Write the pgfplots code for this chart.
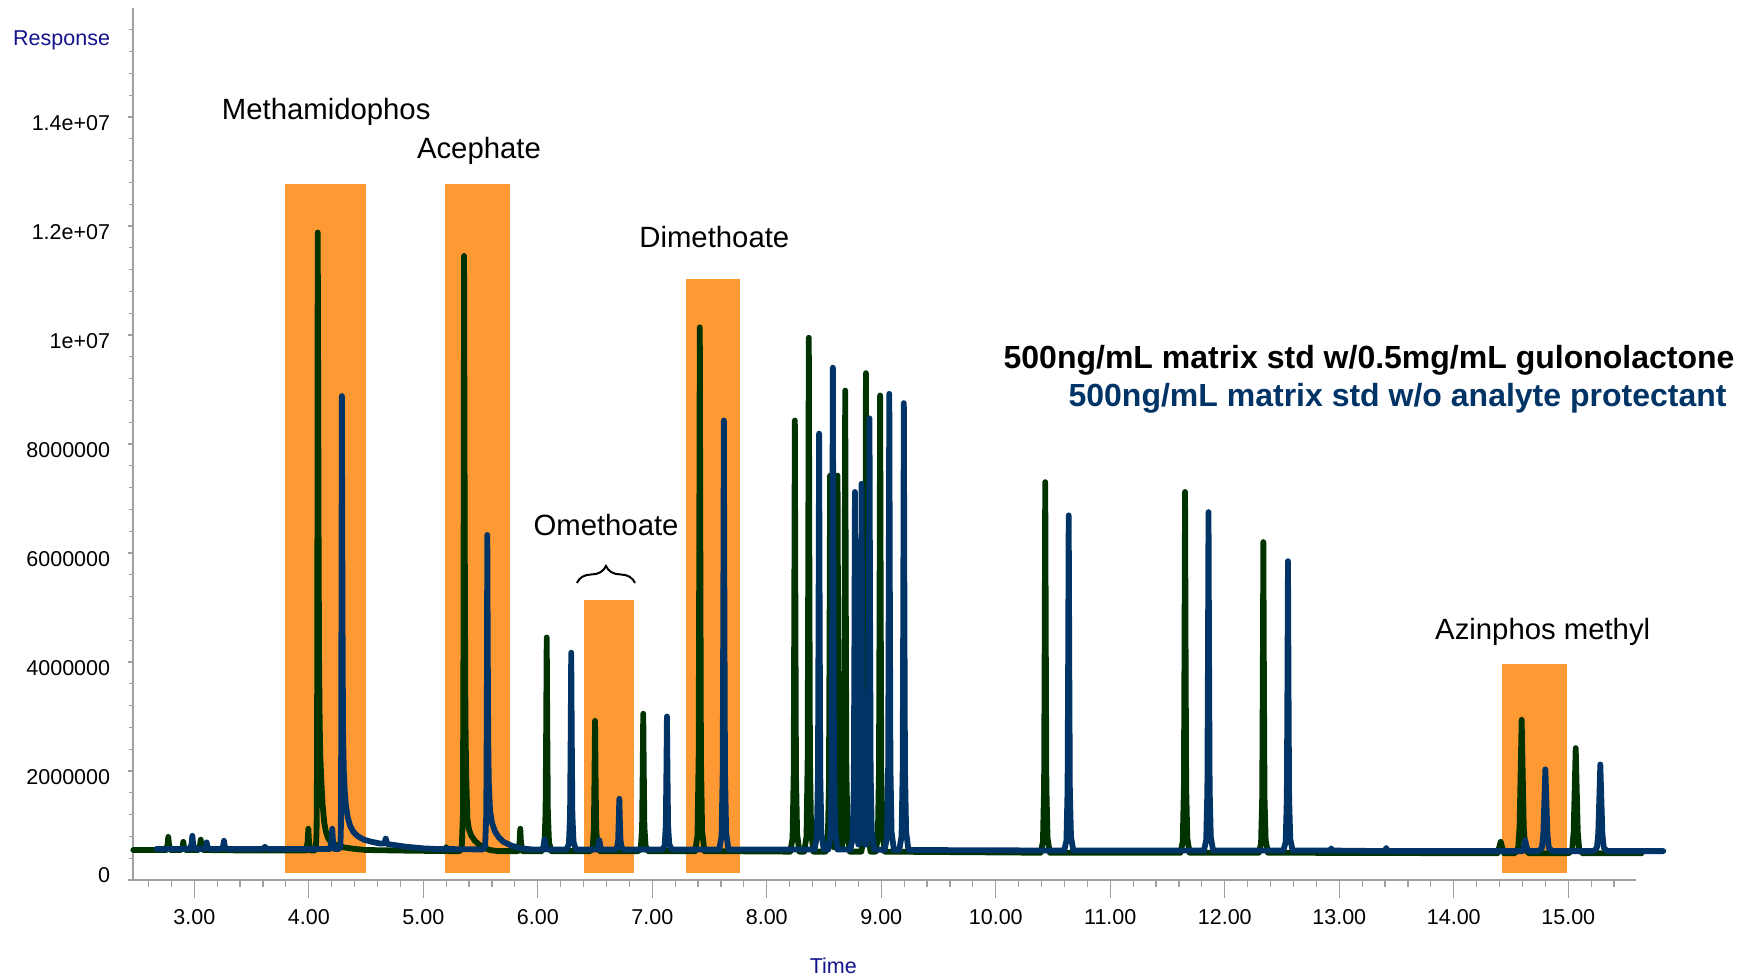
\documentclass[border=0pt]{standalone}
\usepackage{fontspec}
\setmainfont{Liberation Sans}
\usepackage{pgfplots}
\pgfplotsset{compat=1.18}
\usetikzlibrary{decorations.pathreplacing}
\definecolor{cgreen}{RGB}{0,51,0}
\definecolor{cblue}{RGB}{0,51,102}
\definecolor{corange}{RGB}{255,153,51}
\definecolor{cnavy}{RGB}{20,20,140}
\definecolor{caxis}{RGB}{160,160,160}
\begin{document}
\begin{tikzpicture}
% x axis only
\begin{axis}[at={(0,0)}, anchor=south west, scale only axis,
  width=751.35pt, height=436pt,
  xmin=2.4646, xmax=15.589, ymin=0, ymax=16,
  axis x line=bottom, axis y line=none,
  x axis line style={-, draw=caxis, line width=0.7pt},
  tick align=outside, major tick length=9pt, minor tick length=3.5pt,
  tick style={draw=caxis, line width=0.6pt},
  xtick={3,4,...,15},
  xticklabels={3.00,4.00,5.00,6.00,7.00,8.00,9.00,10.00,11.00,12.00,13.00,14.00,15.00},
  minor xtick={2.6,2.8,...,15.4},
  xticklabel style={font=\fontsize{10.75}{12}\selectfont, anchor=north, inner sep=0pt, yshift=-5.6pt}]
\addplot[draw=none] coordinates {(3,1)};
\end{axis}
% y axis and data
\begin{axis}[at={(0,0)}, anchor=south west, scale only axis,
  width=751.35pt, height=436pt,
  xmin=2.4646, xmax=15.589, ymin=0, ymax=16,
  axis y line=left, axis x line=none,
  y axis line style={-, draw=caxis, line width=0.7pt},
  tick align=outside, major tick length=2.5pt, minor tick length=2pt,
  tick style={draw=caxis, line width=0.6pt},
  ytick={0,2,4,6,8,10,12,14},
  yticklabels={\raisebox{11pt}{0},2000000,4000000,6000000,8000000,1e+07,1.2e+07,1.4e+07},
  minor ytick={0.4,0.8,...,15.6},
  yticklabel style={font=\fontsize{10.75}{12}\selectfont, anchor=east, inner sep=0pt, xshift=-8.75pt, yshift=-3pt},
  clip=false]
% highlight boxes
\addplot[fill=corange, draw=none] coordinates {(3.792,0.134)(4.50,0.134)(4.50,12.77)(3.792,12.77)} -- cycle;
\addplot[fill=corange, draw=none] coordinates {(5.19,0.134)(5.76,0.134)(5.76,12.77)(5.19,12.77)} -- cycle;
\addplot[fill=corange, draw=none] coordinates {(6.403,0.134)(6.838,0.134)(6.838,5.13)(6.403,5.13)} -- cycle;
\addplot[fill=corange, draw=none] coordinates {(7.294,0.134)(7.766,0.134)(7.766,11.02)(7.294,11.02)} -- cycle;
\addplot[fill=corange, draw=none] coordinates {(14.42,0.134)(14.986,0.134)(14.986,3.96)(14.42,3.96)} -- cycle;
% green trace
\addplot[cgreen, line width=2.9pt, line join=round, line cap=round] coordinates {
(2.467,0.55)(2.70,0.55)
(2.753,.55)(2.767,.65)(2.773,.79)(2.779,.65)(2.793,.55)
(2.884,.55)(2.898,.61)(2.904,.70)(2.910,.61)(2.924,.55)
(3.036,.55)(3.050,.63)(3.056,.74)(3.062,.63)(3.076,.55)
(3.5,.54)(3.9,.54)
(3.976,.54)(3.990,.70)(3.996,.94)(4.002,.70)(4.016,.54)
(4.05,.54)(4.062,.58)(4.068,.9)(4.072,2.2)(4.075,6.0)(4.078,11.88)(4.082,9.0)(4.086,6.0)(4.09,4.0)(4.095,2.9)(4.10,2.3)(4.11,1.8)(4.12,1.4)(4.135,1.05)(4.15,.88)(4.17,.76)(4.20,.68)(4.25,.63)(4.30,.60)(4.40,.57)(4.50,.55)(4.8,.54)
(5.18,.53)(5.19,.53)(5.20,.60)(5.21,.53)
(5.32,.53)(5.336,.6)(5.346,1.2)(5.351,4.5)(5.356,11.45)(5.360,8.0)(5.364,5.0)(5.368,3.0)(5.374,2.0)(5.385,1.12)(5.40,.92)(5.42,.81)(5.45,.72)(5.48,.66)(5.52,.6)(5.58,.55)(5.65,.53)
(5.827,.53)(5.841,.69)(5.847,.94)(5.853,.69)(5.867,.53)
(6.038,.53)(6.058,.65)(6.068,1.24)(6.073,2.69)(6.078,4.45)(6.083,2.69)(6.088,1.24)(6.098,.69)(6.118,.53)
(6.46,.53)(6.48,.60)(6.49,.96)(6.495,1.84)(6.50,2.92)(6.505,1.84)(6.51,.96)(6.52,.63)(6.54,.53)
(6.881,.53)(6.901,.61)(6.911,.98)(6.916,1.92)(6.921,3.05)(6.926,1.92)(6.931,.98)(6.941,.63)(6.961,.53)
(7.375,.53)(7.395,.82)(7.405,2.26)(7.41,5.82)(7.415,10.14)(7.42,5.82)(7.425,2.26)(7.435,.91)(7.455,.53)
(8.205,.52)(8.225,.76)(8.235,1.94)(8.24,4.87)(8.245,8.43)(8.25,4.87)(8.255,1.94)(8.265,.84)(8.285,.52)
(8.327,.52)(8.347,.80)(8.357,2.22)(8.362,5.71)(8.367,9.95)(8.372,5.71)(8.377,2.22)(8.387,.90)(8.407,.52)
(8.513,.52)(8.533,.73)(8.543,1.76)(8.548,4.32)(8.553,7.42)(8.558,4.32)(8.563,1.76)(8.573,.80)(8.585,.6)
(8.59,.6)(8.598,.8)(8.608,1.76)(8.613,4.32)(8.618,7.42)(8.623,4.32)(8.628,1.76)(8.638,.80)(8.652,.6)
(8.657,.6)(8.665,.77)(8.675,2.04)(8.68,5.17)(8.685,8.98)(8.69,5.17)(8.695,2.04)(8.705,.86)(8.725,.52)
(8.826,.52)(8.846,.78)(8.856,2.10)(8.861,5.35)(8.866,9.30)(8.871,5.35)(8.876,2.10)(8.886,.87)(8.906,.52)
(8.95,.52)(8.97,.77)(8.98,2.03)(8.985,5.12)(8.99,8.89)(8.995,5.12)(9.0,2.03)(9.01,.85)(9.03,.52)
(10.392,.5)(10.412,.70)(10.422,1.72)(10.427,4.24)(10.432,7.30)(10.437,4.24)(10.442,1.72)(10.452,.77)(10.472,.5)
(11.613,.5)(11.633,.70)(11.643,1.69)(11.648,4.14)(11.653,7.12)(11.658,4.14)(11.663,1.69)(11.673,.76)(11.693,.5)
(12.297,.5)(12.317,.67)(12.327,1.53)(12.332,3.64)(12.337,6.20)(12.342,3.64)(12.347,1.53)(12.357,.73)(12.377,.5)
(14.38,.49)(14.40,.62)(14.41,.70)(14.42,.62)(14.44,.49)
(14.533,.49)(14.563,.59)(14.575,.98)(14.584,1.96)(14.593,2.94)(14.602,1.96)(14.611,.98)(14.623,.59)(14.653,.49)
(15.005,.49)(15.035,.57)(15.047,.88)(15.056,1.65)(15.065,2.42)(15.074,1.65)(15.083,.88)(15.095,.57)(15.125,.49)
(15.64,.49)};
% blue trace
\addplot[cblue, line width=2.9pt, line join=round, line cap=round] coordinates {
(2.67,.57)
(2.963,.57)(2.977,.67)(2.983,.81)(2.989,.67)(3.003,.57)
(3.088,.57)(3.102,.62)(3.108,.69)(3.114,.62)(3.128,.57)
(3.239,.57)(3.253,.63)(3.259,.72)(3.265,.63)(3.279,.57)
(3.60,.57)(3.617,.61)(3.634,.57)
(4.185,.57)(4.199,.72)(4.205,.94)(4.211,.72)(4.225,.57)
(4.265,.57)(4.276,.62)(4.28,.95)(4.283,2.5)(4.286,6.0)(4.289,8.88)(4.292,6.5)(4.296,4.0)(4.30,2.6)(4.306,2.0)(4.315,1.6)(4.325,1.35)(4.34,1.15)(4.36,1.0)(4.39,.88)(4.43,.80)(4.48,.74)(4.55,.70)(4.62,.67)(4.66,.67)(4.672,.76)(4.684,.66)(4.75,.64)(4.85,.61)(5.0,.58)(5.1,.57)
(5.52,.56)(5.54,.62)(5.55,1.2)(5.555,3.2)(5.559,6.33)(5.563,4.2)(5.567,2.6)(5.572,1.8)(5.583,1.27)(5.60,1.05)(5.626,.89)(5.66,.78)(5.70,.70)(5.77,.63)(5.85,.58)(5.95,.56)
(6.045,.56)(6.06,.75)(6.075,.56)
(6.252,.56)(6.272,.67)(6.282,1.21)(6.287,2.55)(6.292,4.17)(6.297,2.55)(6.302,1.21)(6.312,.70)(6.332,.56)
(6.522,.56)(6.537,.73)(6.552,.56)
(6.672,.56)(6.692,.59)(6.702,.73)(6.707,1.07)(6.712,1.49)(6.717,1.07)(6.722,.73)(6.732,.60)(6.752,.56)
(7.088,.56)(7.108,.63)(7.118,1.0)(7.123,1.90)(7.128,3.00)(7.133,1.90)(7.138,1.0)(7.148,.66)(7.168,.56)
(7.585,.56)(7.605,.80)(7.615,1.98)(7.62,4.89)(7.625,8.43)(7.63,4.89)(7.635,1.98)(7.645,.87)(7.665,.56)
(8.417,.56)(8.437,.79)(8.447,1.93)(8.452,4.76)(8.457,8.19)(8.462,4.76)(8.467,1.93)(8.477,.87)(8.497,.56)
(8.537,.56)(8.557,.83)(8.567,2.15)(8.572,5.42)(8.577,9.40)(8.582,5.42)(8.587,2.15)(8.597,.91)(8.617,.56)
(8.73,.56)(8.75,.76)(8.76,1.74)(8.765,4.17)(8.77,7.12)(8.775,4.17)(8.78,1.74)(8.79,.82)(8.80,.65)
(8.808,.76)(8.818,1.77)(8.823,4.25)(8.828,7.27)(8.833,4.25)(8.838,1.77)(8.848,.82)(8.858,.65)
(8.872,.65)(8.877,.80)(8.887,1.98)(8.892,4.91)(8.897,8.47)(8.902,4.91)(8.907,1.98)(8.917,.88)(8.937,.56)
(9.03,.55)(9.05,.80)(9.06,2.06)(9.065,5.15)(9.07,8.92)(9.075,5.15)(9.08,2.06)(9.09,.88)(9.11,.55)
(9.157,.55)(9.177,.80)(9.187,2.03)(9.192,5.06)(9.197,8.75)(9.202,5.06)(9.207,2.03)(9.217,.88)(9.237,.55)
(10.597,.54)(10.617,.72)(10.627,1.65)(10.632,3.92)(10.637,6.69)(10.642,3.92)(10.647,1.65)(10.657,.79)(10.677,.54)
(11.818,.54)(11.838,.73)(11.848,1.66)(11.853,3.96)(11.858,6.75)(11.863,3.96)(11.868,1.66)(11.878,.79)(11.898,.54)
(12.512,.54)(12.532,.70)(12.542,1.50)(12.547,3.46)(12.552,5.85)(12.557,3.46)(12.562,1.50)(12.572,.75)(12.592,.54)
(12.92,.54)(12.93,.58)(12.94,.54)
(13.40,.53)(13.41,.59)(13.42,.53)
(14.60,.53)(14.615,.63)(14.624,.73)(14.633,.63)(14.65,.53)
(14.74,.53)(14.77,.59)(14.782,.83)(14.791,1.43)(14.80,2.03)(14.809,1.43)(14.818,.83)(14.83,.59)(14.86,.53)
(15.22,.53)(15.25,.59)(15.262,.85)(15.271,1.48)(15.28,2.12)(15.289,1.48)(15.298,.85)(15.31,.59)(15.34,.53)
(15.83,.53)};
% brace
\draw[black, line width=1pt, decorate, decoration={brace, amplitude=8.5pt}] (axis cs:6.342,5.45) -- (axis cs:6.849,5.45);
% labels
\node[anchor=base, font=\fontsize{14.65}{17}\selectfont] at (axis cs:4.152,13.96) {Methamidophos};
\node[anchor=base, font=\fontsize{14.65}{17}\selectfont] at (axis cs:5.486,13.24) {Acephate};
\node[anchor=base, font=\fontsize{14.65}{17}\selectfont] at (axis cs:7.542,11.60) {Dimethoate};
\node[anchor=base, font=\fontsize{14.65}{17}\selectfont] at (axis cs:6.596,6.32) {Omethoate};
\node[anchor=base, font=\fontsize{14.65}{17}\selectfont] at (axis cs:14.777,4.41) {Azinphos methyl};
\node[anchor=base east, inner sep=0pt, font=\fontsize{16}{19}\selectfont\bfseries] at (axis cs:16.455,9.376) {500ng/mL matrix std w/0.5mg/mL gulonolactone};
\node[anchor=base east, inner sep=0pt, text=cblue, font=\fontsize{16}{19}\selectfont\bfseries] at (axis cs:16.386,8.68) {500ng/mL matrix std w/o analyte protectant};
\node[anchor=base, inner sep=0pt, text=cnavy, font=\fontsize{10.75}{12}\selectfont] at (axis cs:1.841,15.32) {Response};
\node[anchor=base, inner sep=0pt, text=cnavy, font=\fontsize{10.75}{12}\selectfont] at (axis cs:8.581,-1.712) {Time};
\end{axis}
\pgfresetboundingbox
\useasboundingbox (-66.5pt,-48.5pt) rectangle (810pt,440pt);
\end{tikzpicture}
\end{document}
